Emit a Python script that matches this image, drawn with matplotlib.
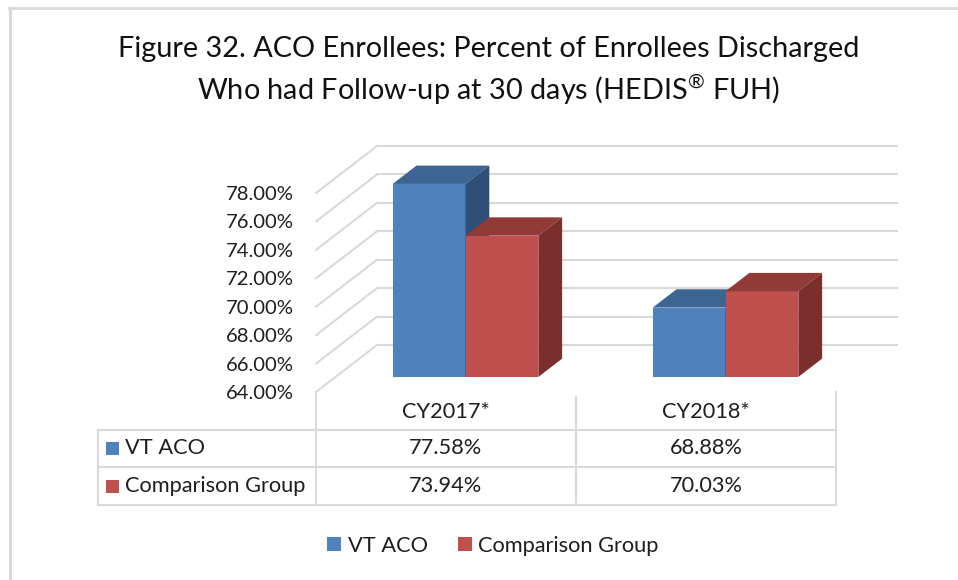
import matplotlib
matplotlib.use('Agg')
import matplotlib.pyplot as plt
from matplotlib.patches import Polygon, Rectangle, Patch
from matplotlib.lines import Line2D
from matplotlib.transforms import ScaledTranslation, IdentityTransform
import numpy as np

# ---------------- data ----------------
categories = ['CY2017*', 'CY2018*']
series_names = ['VT ACO', 'Comparison Group']
vt_aco = [77.58, 68.88]
comparison = [73.94, 70.03]
y_ticks = [64, 66, 68, 70, 72, 74, 76, 78]
title_lines = ['Figure 32. ACO Enrollees: Percent of Enrollees Discharged',
               'Who had Follow-up at 30 days (HEDIS$^{\u00ae}$ FUH)']

# ---------------- style ----------------
W, H, DPI = 958, 580, 100
FONT = ['Lato', 'DejaVu Sans']
front_c = ['#4F81BD', '#C0504D']
top_c = ['#3D6593', '#923A37']
side_c = ['#2F4F79', '#7A2F2D']
grid_c = '#D9D9D9'
text_c = '#1E1E1E'
plt.rcParams['font.family'] = FONT
plt.rcParams['mathtext.fontset'] = 'custom'
plt.rcParams['mathtext.rm'] = 'Lato'
plt.rcParams['mathtext.it'] = 'Lato:italic'
plt.rcParams['mathtext.bf'] = 'Lato:bold'
plt.rcParams['mathtext.default'] = 'rm'

fig = plt.figure(figsize=(W / DPI, H / DPI), dpi=DPI)
fig.patch.set_facecolor('white')


def fx(px):
    return px / W


def fy(py):
    return 1 - py / H


renderer = fig.canvas.get_renderer()


def size_for(s, target_w, base=16.0):
    t = fig.text(0, 0, s, fontsize=base)
    w = t.get_window_extent(renderer).width
    t.remove()
    return base * target_w / w


title_fs = size_for(title_lines[0], 744)
body_fs = size_for('Comparison Group', 182)
tick_fs = size_for('64.00%', 68)

# front-plane axes (category x, percent y)
ax = fig.add_axes([fx(316), fy(392), fx(836) - fx(316), fy(193) - fy(392)])
ax.set_xlim(-0.5, 1.5)
ax.set_ylim(64, 78)
ax.patch.set_visible(False)
for s in ax.spines.values():
    s.set_visible(False)
ax.set_xticks([])
ax.set_yticks(y_ticks)
ax.set_yticklabels([f'{t:.2f}%' for t in y_ticks])
ax.tick_params(axis='y', length=0, pad=16, labelsize=tick_fs, labelcolor=text_c)

D = np.array([61.0, 47.0])   # full depth offset in display px
f1, f2 = 0.32, 0.71          # bar depth range
bw = 0.28


def disp(x, y, f):
    return ax.transData.transform((x, y)) + f * D


def dline(p, q, **kw):
    ax.add_line(Line2D([p[0], q[0]], [p[1], q[1]], transform=IdentityTransform(),
                       clip_on=False, **kw))


# walls
for t in y_ticks:
    dline(disp(-0.5, t, 1), disp(1.5, t, 1), color=grid_c, lw=1.5, zorder=1)
    dline(disp(-0.5, t, 0), disp(-0.5, t, 1), color=grid_c, lw=1.5, zorder=1)

# bars
off = ScaledTranslation(f1 * D[0] / DPI, f1 * D[1] / DPI, fig.dpi_scale_trans)
z = 2.0
for i in range(len(categories)):
    for j, vals in enumerate([vt_aco, comparison]):
        v = vals[i]
        x0 = i + (j - 1) * bw
        x1 = x0 + bw
        ax.bar(x0 + bw / 2, v - 64, bottom=64, width=bw, color=front_c[j],
               transform=ax.transData + off, zorder=z, clip_on=False, linewidth=0)
        top = [disp(x0, v, f1), disp(x1, v, f1), disp(x1, v, f2), disp(x0, v, f2)]
        ax.add_patch(Polygon(top, closed=True, facecolor=top_c[j], edgecolor='none',
                             transform=IdentityTransform(), zorder=z + 0.01, clip_on=False))
        sd = [disp(x1, 64, f1), disp(x1, v, f1), disp(x1, v, f2), disp(x1, 64, f2)]
        ax.add_patch(Polygon(sd, closed=True, facecolor=side_c[j], edgecolor='none',
                             transform=IdentityTransform(), zorder=z + 0.02, clip_on=False))
        z += 0.1

# ---------------- data table ----------------
xb = [ax.transData.transform((c, 64))[0] for c in (-0.5, 0.5, 1.5)]
xc = [ax.transData.transform((c, 64))[0] for c in range(len(categories))]
tab_left = 98
row_lines = [430, 467, 505]
row_centers = [448.5, 486]


def pline(x0, y0, x1, y1, **kw):
    fig.add_artist(Line2D([x0, x1], [H - y0, H - y1], transform=IdentityTransform(), **kw))


for y in row_lines:
    pline(tab_left, y, xb[-1], y, color=grid_c, lw=1.5)
pline(tab_left, row_lines[0], tab_left, row_lines[-1], color=grid_c, lw=1.5)
pline(xb[0], 392, xb[0], row_lines[-1], color=grid_c, lw=1.5)
pline(xb[1], 397, xb[1], row_lines[-1], color=grid_c, lw=1.5)
pline(xb[2], 392, xb[2], row_lines[-1], color=grid_c, lw=1.5)

for i, c in enumerate(categories):
    fig.text(xc[i] / W, fy(412), c, ha='center', va='center', fontsize=body_fs, color=text_c)

for j, (name, vals) in enumerate(zip(series_names, [vt_aco, comparison])):
    yc = row_centers[j]
    fig.add_artist(Rectangle((106, H - yc - 6.5), 13, 13, transform=IdentityTransform(),
                             facecolor=front_c[j], edgecolor='none'))
    fig.text(fx(125), fy(yc), name, ha='left', va='center', fontsize=body_fs, color=text_c)
    for i, v in enumerate(vals):
        fig.text(xc[i] / W, fy(yc), f'{v:.2f}%', ha='center', va='center',
                 fontsize=body_fs, color=text_c)

# ---------------- legend ----------------
handles = [Patch(facecolor=front_c[0], edgecolor='none'),
           Patch(facecolor=front_c[1], edgecolor='none')]
fig.legend(handles, series_names, loc='center', bbox_to_anchor=(fx(493), fy(546)),
           ncol=2, frameon=False, fontsize=body_fs, handlelength=0.62, handleheight=0.62,
           handletextpad=0.3, columnspacing=1.4, labelcolor=text_c)

# ---------------- title ----------------
fig.text(fx(489), fy(49), title_lines[0], ha='center', va='center', fontsize=title_fs, color='#111111')
fig.text(fx(489), fy(90), title_lines[1], ha='center', va='center', fontsize=title_fs, color='#111111')

# ---------------- outer frame (left and top) ----------------
pline(9.5, 8, 9.5, H, color=grid_c, lw=2.2)
pline(8.5, 8, W, 8, color=grid_c, lw=2.0)

fig.savefig('out.png', dpi=DPI, facecolor='white')
